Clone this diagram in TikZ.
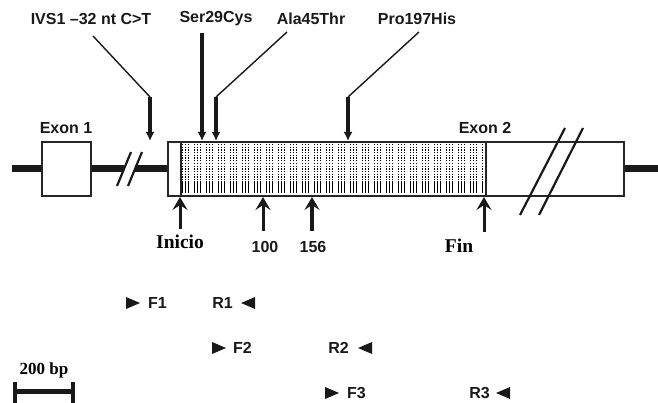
\documentclass[tikz,border=0pt]{standalone}
\usepackage{fontspec}
\setmainfont{Liberation Sans}
\newfontfamily\serifb{Liberation Serif}
\usetikzlibrary{arrows.meta}
\begin{document}
\begin{tikzpicture}[x=1pt,y=-1pt,
  lbl/.style={font=\fontsize{16}{17}\selectfont\bfseries, inner sep=0pt, text=black!90},
  slbl/.style={font=\serifb\fontsize{19.5}{20}\selectfont\bfseries, inner sep=0pt, anchor=base},
  nlbl/.style={font=\fontsize{16}{17}\selectfont\bfseries, inner sep=0pt, anchor=base, text=black!90},
  boxline/.style={draw=black!85, line width=1.4pt},
  backbone/.style={line width=7pt, black!90},
  slash/.style={line width=2.2pt, black!90},
  diag/.style={line width=1.4pt, black!90},
  mut/.style={line width=3.2pt, black!90, -{Latex[length=9pt,width=9pt]}},
  uparr/.style={line width=3pt, black!90, -{Stealth[length=13pt,width=15pt,inset=5pt]}},
  tri/.style={fill=black!90},
]
\useasboundingbox (0,0) rectangle (658,403);

% backbone
\coordinate (L0) at (12,169);
\coordinate (L1) at (42,169);
\coordinate (L2) at (91,169);
\coordinate (L3) at (124,169);
\coordinate (L4) at (135,169);
\coordinate (L5) at (168,169);
\coordinate (R0) at (623,169);
\coordinate (R1) at (658,169);
\draw[backbone] (L0) -- (L1);
\draw[backbone] (L2) -- (L3);
\draw[backbone] (L4) -- (L5);
\draw[backbone] (R0) -- (R1);

% break slashes left
\coordinate (s1a) at (117,186); \coordinate (s1b) at (131,152);
\coordinate (s2a) at (128,186); \coordinate (s2b) at (142,152);
\draw[slash] (s1a) -- (s1b);
\draw[slash] (s2a) -- (s2b);

% exon 1
\node[boxline, fill=white, minimum width=49pt, minimum height=54pt, inner sep=0pt] (ex1) at (66.5,169) {};
\node[lbl] (ex1l) at (66,128) {Exon 1};

% exon 2 box
\node[boxline, fill=white, minimum width=455pt, minimum height=54pt, inner sep=0pt, anchor=west] (ex2) at (168,169) {};
\node[lbl] (ex2l) at (485,128) {Exon 2};

% hatched coding region
\begin{scope}
\clip (181,143) rectangle (486,195);
\foreach \i in {0,...,101} {
  \pgfmathtruncatemacro{\m}{mod(\i,4)}
  \ifnum\m=3\else
    \draw[black, line width=1.1pt, dash pattern=on 1.3pt off 1.4pt] (182.5+3*\i,144) -- (182.5+3*\i,180);
    \draw[black, line width=1.2pt] (182.5+3*\i,181.5) -- (182.5+3*\i,193.5);
  \fi
}
\end{scope}
\draw[boxline] (181,142) -- (181,196);
\draw[boxline] (486,142) -- (486,196);
\draw[boxline] (ex2.north west) rectangle (ex2.south east);

% right slashes
\coordinate (t1a) at (520,215); \coordinate (t1b) at (565,128);
\coordinate (t2a) at (539,215); \coordinate (t2b) at (583,128);
\draw[slash] (t1a) -- (t1b);
\draw[slash] (t2a) -- (t2b);

% top mutation labels and arrows
\node[lbl] (ivs) at (91,19) {IVS1 --32 nt C>T};
\node[lbl] (ser) at (216,19) {Ser29Cys};
\node[lbl] (ala) at (311,19) {Ala45Thr};
\node[lbl] (pro) at (417,19) {Pro197His};

\coordinate (ivs0) at (93,36); \coordinate (ivs1) at (150,97); \coordinate (ivs2) at (150,141);
\draw[diag] (ivs0) -- (ivs1);
\draw[mut] (ivs1) -- (ivs2);

\coordinate (ser1) at (202,33); \coordinate (ser2) at (202,141);
\draw[mut] (ser1) -- (ser2);

\coordinate (ala0) at (287,32); \coordinate (ala1) at (216,97); \coordinate (ala2) at (216,141);
\draw[diag] (ala0) -- (ala1);
\draw[mut] (ala1) -- (ala2);

\coordinate (pro0) at (419,32); \coordinate (pro1) at (348,97); \coordinate (pro2) at (348,141);
\draw[diag] (pro0) -- (pro1);
\draw[mut] (pro1) -- (pro2);

% bottom arrows
\coordinate (ini0) at (180,229); \coordinate (ini1) at (180,197);
\draw[uparr] (ini0) -- (ini1);
\node[slbl] (ini) at (180,248) {Inicio};

\coordinate (c1a) at (263,231); \coordinate (c1b) at (263,197);
\draw[uparr] (c1a) -- (c1b);
\node[nlbl] (c1) at (265,253) {100};

\coordinate (c2a) at (312,231); \coordinate (c2b) at (312,197);
\draw[uparr, line width=3.8pt] (c2a) -- (c2b);
\node[nlbl] (c2) at (313,253) {156};

\coordinate (fin0) at (484,232); \coordinate (fin1) at (484,197);
\draw[uparr] (fin0) -- (fin1);
\node[slbl] (fin) at (459,253) {Fin};

% primers
\fill[tri] (126,297) -- (140,303) -- (126,309) -- cycle;
\node[lbl, anchor=west] (f1) at (148,303) {F1};
\node[lbl, anchor=east] (r1) at (233,303) {R1};
\fill[tri] (255,297) -- (241,303) -- (255,309) -- cycle;

\fill[tri] (212,342) -- (226,348) -- (212,354) -- cycle;
\node[lbl, anchor=west] (f2) at (233,348) {F2};
\node[lbl, anchor=east] (r2) at (349,348) {R2};
\fill[tri] (372,342) -- (358,348) -- (372,354) -- cycle;

\fill[tri] (325,387) -- (339,393) -- (325,399) -- cycle;
\node[lbl, anchor=west] (f3) at (347,393) {F3};
\node[lbl, anchor=east] (r3) at (490,393) {R3};
\fill[tri] (510,387) -- (496,393) -- (510,399) -- cycle;

% scale bar
\node[font=\serifb\fontsize{17}{18}\selectfont\bfseries, inner sep=0pt] (sb) at (44,370) {200 bp};
\coordinate (sb0) at (15,391); \coordinate (sb1) at (73,391);
\draw[line width=5pt, black!90] (sb0) -- (sb1);
\draw[line width=4pt, black!90] (15,382) -- (15,403);
\draw[line width=4pt, black!90] (73,382) -- (73,403);
\end{tikzpicture}
\end{document}
